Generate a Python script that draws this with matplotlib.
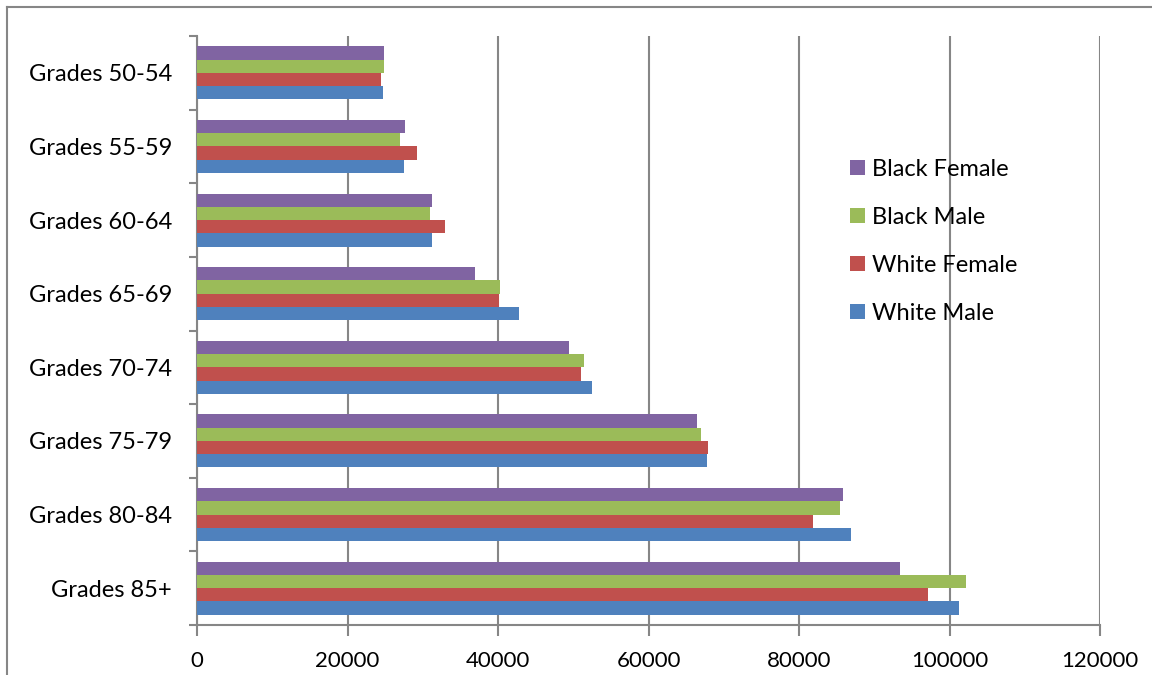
import matplotlib
matplotlib.use("Agg")
from matplotlib import pyplot as plt
from matplotlib.lines import Line2D
import numpy as np

categories = ["Grades 50-54", "Grades 55-59", "Grades 60-64", "Grades 65-69",
              "Grades 70-74", "Grades 75-79", "Grades 80-84", "Grades 85+"]
white_male = [24700, 27500, 31200, 42750, 52550, 67750, 86950, 101200]
white_female = [24400, 29200, 33000, 40100, 51000, 67900, 81850, 97200]
black_male = [24800, 27000, 30900, 40200, 51400, 66950, 85500, 102150]
black_female = [24800, 27700, 31200, 36950, 49500, 66500, 85850, 93450]
xticks = [0, 20000, 40000, 60000, 80000, 100000, 120000]

plt.rcParams["font.family"] = ["Lato", "DejaVu Sans"]
grey = "#868686"

fig = plt.figure(figsize=(11.52, 6.75), dpi=100)
ax = fig.add_axes([197 / 1152, 50 / 675, 903 / 1152, 589 / 675])

n = len(categories)
y = np.arange(n)[::-1].astype(float)
h = 0.18
series = [
    ("White Male", white_male, "#4f81bd", -1.5),
    ("White Female", white_female, "#c0504d", -0.5),
    ("Black Male", black_male, "#9bbb59", 0.5),
    ("Black Female", black_female, "#8064a2", 1.5),
]
handles = []
for name, vals, col, off in series:
    b = ax.barh(y + off * h, vals, height=h, color=col, label=name, zorder=3)
    handles.append(b)

ax.set_xlim(0, 120000)
ax.set_ylim(-0.5, n - 0.5)
ax.set_xticks(xticks)
ax.set_xticklabels([str(v) for v in xticks], fontsize=16)
ax.set_yticks(y)
ax.set_yticklabels(categories, fontsize=17)
ax.tick_params(axis="y", which="major", length=0, pad=18)
ax.set_yticks(np.arange(-0.5, n, 1.0), minor=True)
ax.tick_params(axis="y", which="minor", length=6, width=1.5, color=grey, direction="out")
ax.tick_params(axis="x", length=8, width=1.5, color=grey, pad=11)

ax.grid(axis="x", color=grey, linewidth=1.5, zorder=0)
for s in ["top", "right"]:
    ax.spines[s].set_visible(False)
for s in ["left", "bottom"]:
    ax.spines[s].set_color(grey)
    ax.spines[s].set_linewidth(1.5)

ax.legend(handles=handles[::-1], loc="upper left", bbox_to_anchor=(0.7, 0.828),
          frameon=False, fontsize=17, handlelength=0.6, handleheight=0.6,
          handletextpad=0.3, labelspacing=1.15)

# outer chart border (left and top visible)
fig.add_artist(Line2D([7 / 1152, 7 / 1152], [0, 1 - 7 / 675], transform=fig.transFigure,
                      color=grey, linewidth=1.5))
fig.add_artist(Line2D([7 / 1152, 1], [1 - 7 / 675, 1 - 7 / 675], transform=fig.transFigure,
                      color=grey, linewidth=1.5))

fig.savefig("out.png", dpi=100, facecolor="white")
